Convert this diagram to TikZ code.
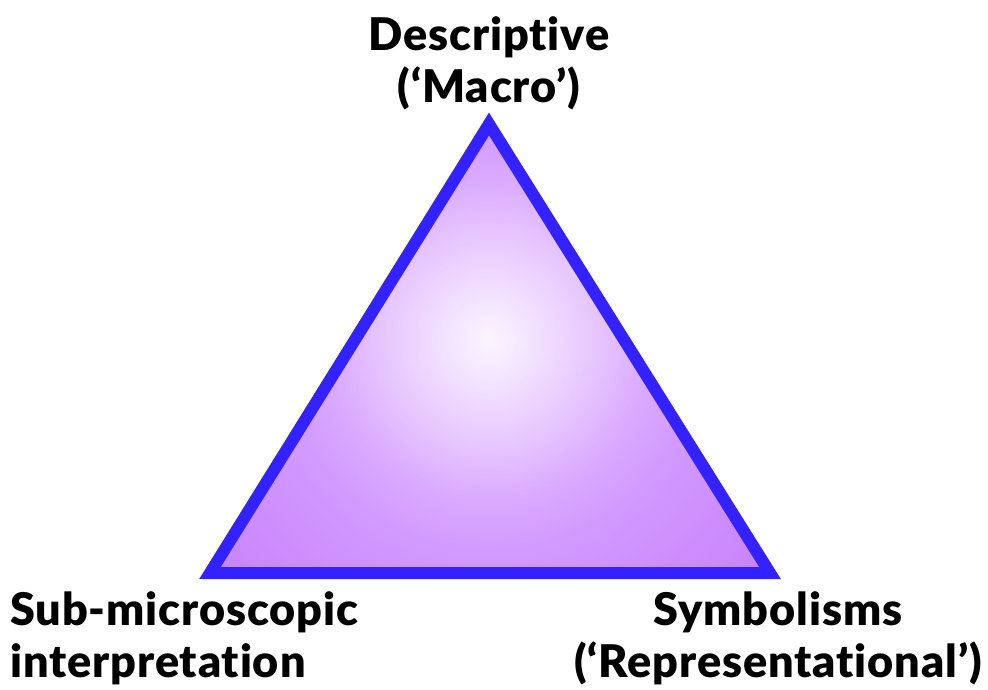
\documentclass[tikz,border=0pt]{standalone}
\usepackage{fontspec}
\setmainfont{Lato}[BoldFont={Lato Black}, Ligatures={NoCommon,NoRare}, BoldFeatures={LetterSpace=2}]
\definecolor{triline}{HTML}{3322FF}
\definecolor{trifill}{HTML}{CA86FC}
\definecolor{trideep}{HTML}{D29AFE}
\definecolor{trimid}{HTML}{DAAAFF}
\definecolor{trilight}{HTML}{E6C4FF}
\definecolor{tripale}{HTML}{F2E0FF}
\definecolor{tricentre}{HTML}{FBF5FF}
% circle of radius 400 maps to 25bp: 1bp = 16 px
\pgfdeclareradialshading{trishade}{\pgfpoint{0bp}{0bp}}{color(0bp)=(tricentre); color(3.1bp)=(tripale); color(6.9bp)=(trilight); color(10bp)=(trimid); color(13.1bp)=(trideep); color(21.3bp)=(trifill); color(50bp)=(trifill)}
\begin{document}
\begin{tikzpicture}[x=1pt,y=-1pt,
  lbl/.style={font=\fontsize{45}{52}\selectfont\bfseries, inner sep=0pt},
  triedge/.style={draw=triline, line width=12pt, line join=miter}]
\useasboundingbox (0,0) rectangle (988,689);
\coordinate (top) at (489,124);
\coordinate (bl) at (210,573);
\coordinate (br) at (770,573);
\begin{scope}
  \clip (top) -- (bl) -- (br) -- cycle;
  \shade[shading=trishade] (489,340) circle (400);
\end{scope}
\draw[triedge] (top) -- (bl) -- (br) -- cycle;
\node[lbl, anchor=north, align=center] (desc) at (489,16) {Descriptive\\(‘Macro’)};
\node[lbl, anchor=north west, align=left] (sub) at (10,591) {Sub-microscopic\\interpretation};
\node[lbl, anchor=north, align=center] (sym) at (778,591) {Symbolisms\\(‘Representational’)};
\end{tikzpicture}
\end{document}
